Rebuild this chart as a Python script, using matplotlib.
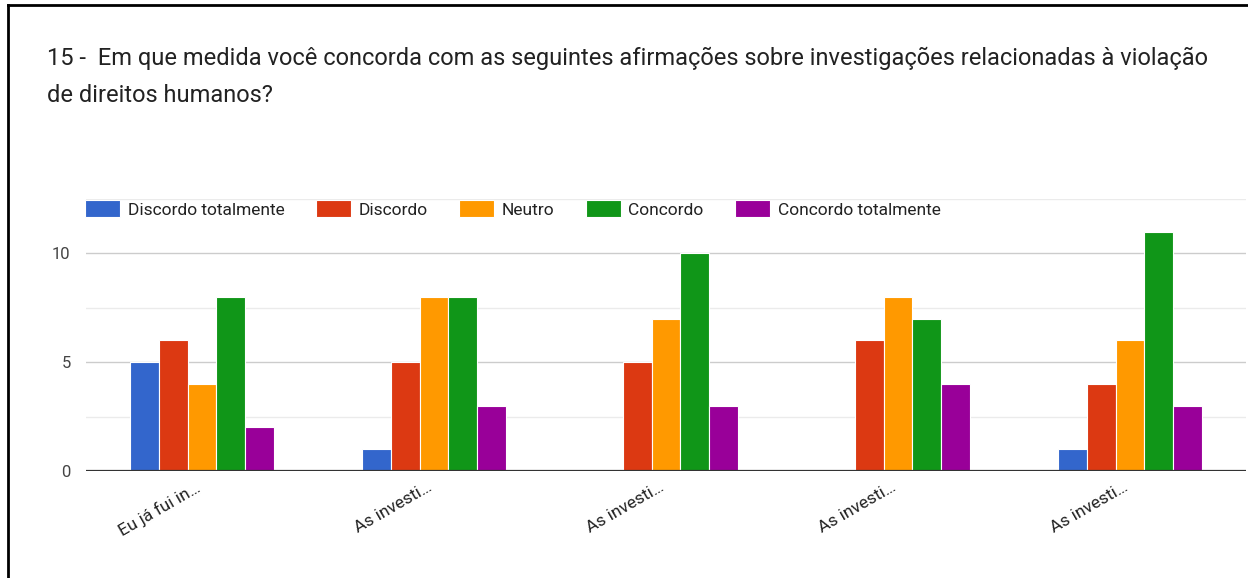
import matplotlib
matplotlib.use('Agg')
from matplotlib import pyplot as plt
from matplotlib.lines import Line2D
import matplotlib.transforms as mtransforms
import numpy as np

plt.rcParams['font.family'] = ['Roboto', 'DejaVu Sans']

# data
categories = ['Eu já fui in…', 'As investi…', 'As investi…', 'As investi…', 'As investi…']
series_names = ['Discordo totalmente', 'Discordo', 'Neutro', 'Concordo', 'Concordo totalmente']
discordo_tot = [5, 1, 0, 0, 1]
discordo = [6, 5, 5, 6, 4]
neutro = [4, 8, 7, 8, 6]
concordo = [8, 8, 10, 7, 11]
concordo_tot = [2, 3, 3, 4, 3]
series = [discordo_tot, discordo, neutro, concordo, concordo_tot]
colors = ['#3366cc', '#dc3912', '#ff9900', '#109618', '#990099']

W, H = 1248, 578
fig = plt.figure(figsize=(W / 100, H / 100), dpi=100)

# axes placed in pixel coords
ax_l, ax_r, ax_t, ax_b = 86, 1246, 199, 471
ax = fig.add_axes([ax_l / W, 1 - ax_b / H, (ax_r - ax_l) / W, (ax_b - ax_t) / H])

x = np.arange(len(categories))
bw = 0.124
for i, (vals, c, name) in enumerate(zip(series, colors, series_names)):
    ax.bar(x + (i - 2) * bw, vals, width=bw, color=c, edgecolor='white',
           linewidth=0.8, label=name, zorder=3)

ax.set_xlim(-0.5, 4.5)
ax.set_ylim(0, 12.5)
for y in [2.5, 7.5, 12.5]:
    ax.axhline(y, color='#ebebeb', lw=1, zorder=1)
for y in [5, 10]:
    ax.axhline(y, color='#cccccc', lw=1, zorder=1)
ax.axhline(0, color='#333333', lw=1.6, zorder=4)

for s in ax.spines.values():
    s.set_visible(False)
ax.set_yticks([0, 5, 10])
ax.set_yticklabels(['0', '5', '10'])
ax.tick_params(axis='y', length=0, pad=11, labelsize=12, labelcolor='#444444')
ax.set_xticks(x)
ax.set_xticklabels(categories, rotation=30, ha='right', va='top',
                   rotation_mode='anchor', fontsize=12.5, color='#222222')
ax.tick_params(axis='x', length=0, pad=6)
shift = mtransforms.ScaledTranslation(-7 / 100, 0, fig.dpi_scale_trans)
for lab in ax.get_xticklabels():
    lab.set_transform(lab.get_transform() + shift)

leg = fig.legend(loc='center left', bbox_to_anchor=(85 / W, 1 - 209 / H), ncol=5,
                 frameon=False, fontsize=12.5, handlelength=2.0, handleheight=1.15,
                 handletextpad=0.45, columnspacing=1.82, labelcolor='#222222',
                 borderaxespad=0, borderpad=0)

fig.text(47 / W, 1 - 58 / H,
         '15 -  Em que medida você concorda com as seguintes afirmações sobre investigações relacionadas à violação',
         fontsize=17, color='#222222', va='center', ha='left')
fig.text(47 / W, 1 - 95 / H, 'de direitos humanos?',
         fontsize=17, color='#222222', va='center', ha='left')

# border frame
fig.add_artist(Line2D([8 / W, 8 / W], [0, 1 - 5 / H], color='black', lw=2))
fig.add_artist(Line2D([8 / W, 1], [1 - 5 / H, 1 - 5 / H], color='black', lw=2))

fig.savefig('out.png', dpi=100)
